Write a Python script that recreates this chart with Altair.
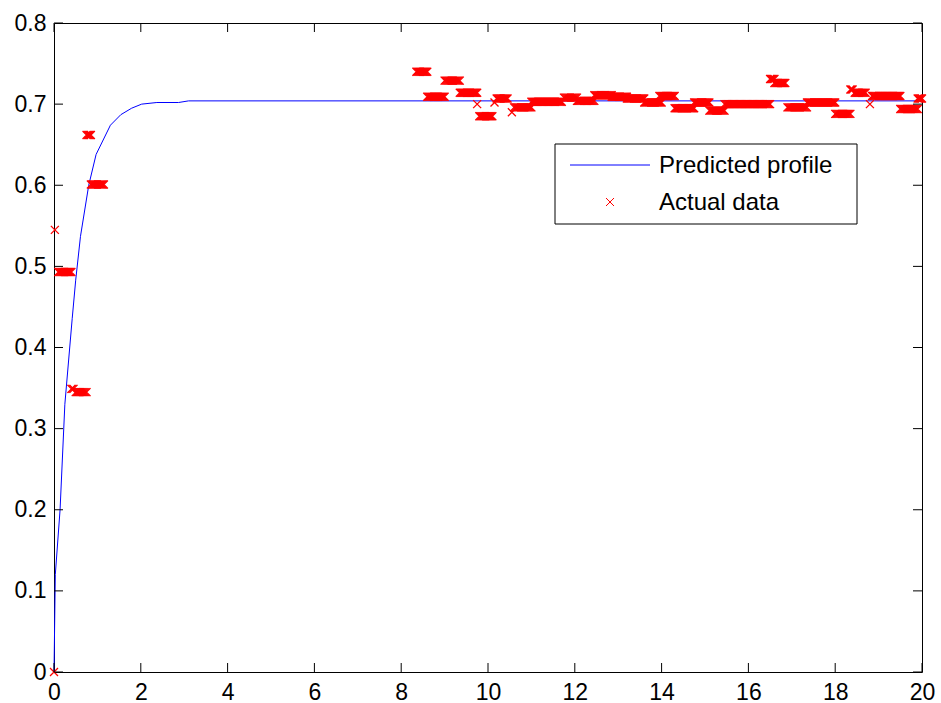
import altair as alt
import numpy as np
import pandas as pd

# Model output: predicted profile over time
pred_t = [0.0, 0.03, 0.14, 0.25, 0.42, 0.50, 0.61, 0.80, 0.97, 1.30, 1.54, 1.79, 2.02, 2.37, 2.87, 3.10, 20.0]
pred_v = [0.0, 0.12, 0.20, 0.33, 0.436, 0.483, 0.537, 0.600, 0.638, 0.674, 0.687, 0.695, 0.700, 0.702, 0.702, 0.704, 0.704]

# Measured data: the logger holds each reading for a run of samples (period SAMPLE_DT)
SAMPLE_DT = 0.025
run_start = [0.00, 0.02, 0.10, 0.40, 0.50, 0.75, 0.85,
             8.35, 8.60, 9.00, 9.35, 9.75, 9.80, 10.15, 10.20, 10.55, 10.60,
             11.00, 11.75, 12.05, 12.45, 12.85, 13.20, 13.60, 13.95, 14.30,
             14.75, 15.10, 15.45, 16.50, 16.60, 16.90, 17.35, 18.00, 18.35,
             18.45, 18.80, 18.85, 19.50, 19.90]
run_end = [0.00, 0.02, 0.40, 0.45, 0.75, 0.85, 1.15,
           8.60, 9.00, 9.35, 9.75, 9.75, 10.10, 10.15, 10.45, 10.55, 11.00,
           11.70, 12.05, 12.45, 12.85, 13.20, 13.60, 14.00, 14.30, 14.75,
           15.10, 15.45, 16.50, 16.60, 16.85, 17.35, 18.00, 18.35, 18.40,
           18.70, 18.80, 19.50, 19.90, 20.00]
run_value = [0.000, 0.545, 0.493, 0.349, 0.345, 0.662, 0.601,
             0.740, 0.709, 0.729, 0.714, 0.700, 0.685, 0.702, 0.707, 0.690, 0.696,
             0.703, 0.708, 0.704, 0.711, 0.709, 0.707, 0.702, 0.710, 0.695,
             0.702, 0.692, 0.700, 0.731, 0.726, 0.696, 0.702, 0.688, 0.718,
             0.714, 0.700, 0.710, 0.694, 0.707]

x_ticks = [0, 2, 4, 6, 8, 10, 12, 14, 16, 18, 20]
y_ticks = [0, 0.1, 0.2, 0.3, 0.4, 0.5, 0.6, 0.7, 0.8]

W, H = 868, 649
FONT = "Liberation Sans"
X_MARK = "M-1,-1L1,1M-1,1L1,-1"

pred = pd.DataFrame({"t": pred_t, "v": pred_v})

meas_t, meas_v = [], []
for s, e, v in zip(run_start, run_end, run_value):
    ts = np.arange(s, e + 1e-9, SAMPLE_DT)
    meas_t.extend(np.round(ts, 3).tolist())
    meas_v.extend([v] * len(ts))
meas = pd.DataFrame({"t": meas_t, "v": meas_v})

xs = alt.Scale(domain=[0, 20], nice=False, zero=False)
ys = alt.Scale(domain=[0, 0.8], nice=False, zero=False)

x_axis = alt.Axis(values=x_ticks, format="~g", tickSize=0, domain=False, grid=False,
                  labelFont=FONT, labelFontSize=23, labelColor="black", labelPadding=9,
                  labelFlush=False, labelOverlap=False, title=None)
y_axis = alt.Axis(values=y_ticks, format="~g", tickSize=0, domain=False, grid=False,
                  labelFont=FONT, labelFontSize=23, labelColor="black", labelPadding=8,
                  labelFlush=False, labelOverlap=False, title=None)

line = alt.Chart(pred).mark_line(color="#0000ff", strokeWidth=1, clip=False).encode(
    x=alt.X("t:Q", scale=xs, axis=x_axis),
    y=alt.Y("v:Q", scale=ys, axis=y_axis),
)

points = alt.Chart(meas).mark_point(
    shape=X_MARK, filled=False, stroke="#ff0000", fill=None, size=64,
    strokeWidth=1.3, opacity=1, strokeOpacity=1
).encode(x=alt.X("t:Q", scale=xs), y=alt.Y("v:Q", scale=ys))

# inward tick marks on all four sides of the box
xt = pd.DataFrame({"t": x_ticks})
yt = pd.DataFrame({"v": y_ticks})
TL = 9
ticks_bottom = alt.Chart(xt).mark_rule(color="black", strokeWidth=1).encode(
    x=alt.X("t:Q", scale=xs), y=alt.value(H), y2=alt.value(H - TL))
ticks_top = alt.Chart(xt).mark_rule(color="black", strokeWidth=1).encode(
    x=alt.X("t:Q", scale=xs), y=alt.value(0), y2=alt.value(TL))
ticks_left = alt.Chart(yt).mark_rule(color="black", strokeWidth=1).encode(
    y=alt.Y("v:Q", scale=ys), x=alt.value(0), x2=alt.value(TL))
ticks_right = alt.Chart(yt).mark_rule(color="black", strokeWidth=1).encode(
    y=alt.Y("v:Q", scale=ys), x=alt.value(W - TL), x2=alt.value(W))

# legend box
one = pd.DataFrame({"k": [0]})
lg_box = alt.Chart(one).mark_rect(fill="white", stroke="black", strokeWidth=1).encode(
    x=alt.value(501), x2=alt.value(803), y=alt.value(121), y2=alt.value(201))
lg_line = alt.Chart(one).mark_rule(color="#0000ff", strokeWidth=1).encode(
    x=alt.value(516), x2=alt.value(596), y=alt.value(142))
lg_mark = alt.Chart(one).mark_point(shape=X_MARK, filled=False, stroke="#ff0000",
                                    size=64, strokeWidth=1, opacity=1).encode(
    x=alt.value(556), y=alt.value(179))
lg_text1 = alt.Chart(one).mark_text(align="left", baseline="middle", font=FONT,
                                    fontSize=24, color="black").encode(
    x=alt.value(605), y=alt.value(143), text=alt.value("Predicted profile"))
lg_text2 = alt.Chart(one).mark_text(align="left", baseline="middle", font=FONT,
                                    fontSize=24, color="black").encode(
    x=alt.value(605), y=alt.value(180), text=alt.value("Actual data"))

chart = alt.layer(
    line, points, ticks_bottom, ticks_top, ticks_left, ticks_right,
    lg_box, lg_line, lg_mark, lg_text1, lg_text2,
).properties(
    width=W, height=H,
    autosize=alt.AutoSizeParams(type="none"),
    padding={"left": 54, "top": 23, "right": 19, "bottom": 31},
    background="white",
).configure_view(stroke="black", strokeWidth=1)

chart.save("out.html", embed_options={"renderer": "svg", "actions": False})
